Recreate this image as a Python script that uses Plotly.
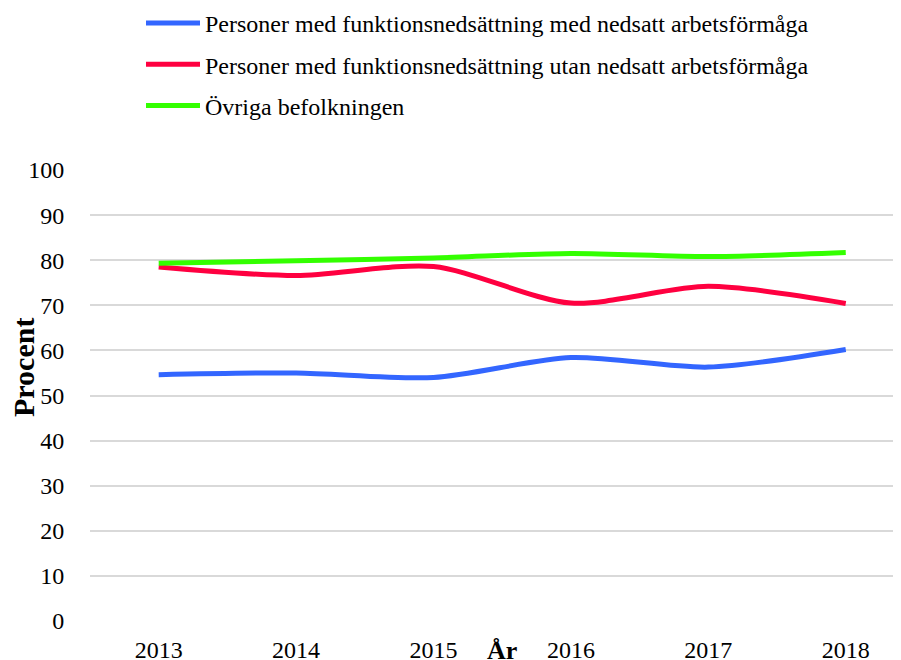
import plotly.graph_objects as go

years = [2013, 2014, 2015, 2016, 2017, 2018]
med_nedsatt = [54.6, 55.0, 54.0, 58.4, 56.3, 60.2]
utan_nedsatt = [78.5, 76.6, 78.6, 70.5, 74.2, 70.4]
ovriga = [79.3, 79.9, 80.5, 81.5, 80.8, 81.7]

names = [
    "Personer med funktionsnedsättning med nedsatt arbetsförmåga",
    "Personer med funktionsnedsättning utan nedsatt arbetsförmåga",
    "Övriga befolkningen",
]
colors = ["#3366ff", "#ff0040", "#33ff00"]
series = [med_nedsatt, utan_nedsatt, ovriga]

font_family = "Liberation Serif, Times New Roman, serif"

fig = go.Figure()
for i, (n, c, s) in enumerate(zip(names, colors, series)):
    fig.add_trace(go.Scatter(
        x=years, y=s, name=n, mode="lines",
        line=dict(color=c, width=5, shape="spline", smoothing=0.8),
        legendgroup=f"g{i}",
    ))

# page body has an 8px offset; figure is sized to fill the rest
OFF = 8
W, H = 901 - OFF, 660 - OFF
L, R, T = 90 - OFF, 4, 170 - OFF
PH = 451
B = H - T - PH
pw = W - L - R

fig.update_layout(
    width=W, height=H,
    margin=dict(l=L, r=R, t=T, b=B, autoexpand=False),
    paper_bgcolor="white", plot_bgcolor="white",
    font=dict(family=font_family, size=24, color="black"),
    showlegend=True,
    legend=dict(
        x=(133 - L) / pw, y=1.0 + (T + 7) / PH, xanchor="left", yanchor="top",
        yref="paper",
        font=dict(size=24, family=font_family),
        tracegroupgap=7,
        itemwidth=54,
        bgcolor="rgba(0,0,0,0)",
    ),
    xaxis=dict(
        range=[2012.5, 2018.373], automargin=False,
        tickvals=years, ticktext=[str(y) for y in years],
        showgrid=False, zeroline=False, showline=False,
        ticks="outside", ticklen=7, tickcolor="rgba(0,0,0,0)",
        tickfont=dict(size=24),
    ),
    yaxis=dict(
        range=[0, 100], dtick=10, automargin=False,
        showgrid=True, gridcolor="#d9d9d9", gridwidth=1.5,
        zeroline=False, showline=False,
        ticks="outside", ticklen=20, tickcolor="rgba(0,0,0,0)",
        tickfont=dict(size=24),
    ),
    annotations=[
        dict(text="<b>Procent</b>", xref="paper", yref="paper",
             x=(23 - OFF - L) / pw, y=(621 - 368) / PH,
             xanchor="center", yanchor="middle",
             textangle=-90, showarrow=False, font=dict(size=30)),
        dict(text="<b>År</b>", xref="paper", yref="paper",
             x=(502 - OFF - L) / pw, y=(621 - 650) / PH,
             showarrow=False, font=dict(size=26),
             yanchor="middle", xanchor="center"),
    ],
)

fig.write_html("out.html")
